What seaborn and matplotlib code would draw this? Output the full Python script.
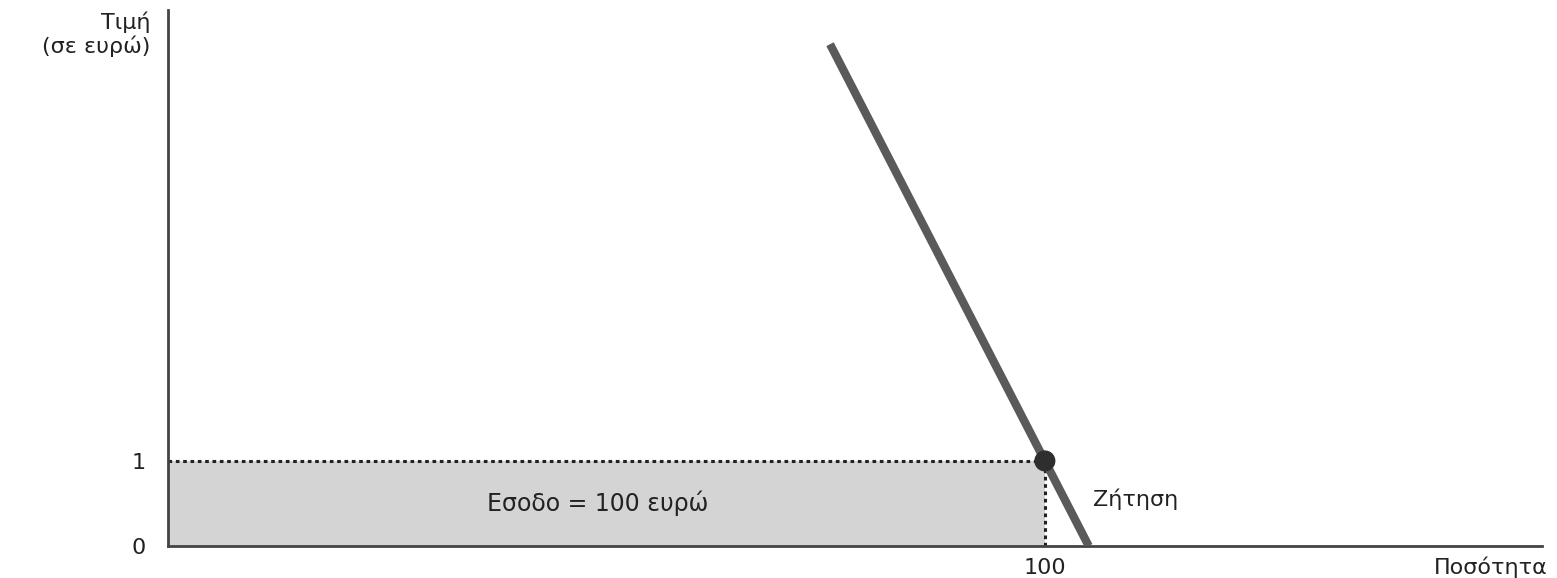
import matplotlib
matplotlib.use('Agg')
import matplotlib.pyplot as plt
import pandas as pd
import seaborn as sns

# Demand curve (quantity, price)
demand_q = [75.5, 105]
demand_p = [5.9, 0]

# Market point and revenue box
point_q = [100]
point_p = [1]

x_ticks = [100]
x_tick_labels = ['100']
y_ticks = [0, 1]
y_tick_labels = ['0', '1']

sns.set_style('white')
plt.rcParams['font.family'] = ['DejaVu Sans']

fig = plt.figure(figsize=(15.57, 5.78), dpi=100)
ax = fig.add_axes([0.1079, 0.0554, 0.8825, 0.927])

# Shaded revenue area
ax.fill_between([0, point_q[0]], 0, point_p[0], color='#d4d4d4', linewidth=0, zorder=1)

# Dotted guides
ax.plot([0, point_q[0]], [point_p[0], point_p[0]], color='#222222', linestyle=(0, (1.2, 1.2)), lw=2.2, zorder=2)
ax.plot([point_q[0], point_q[0]], [0, point_p[0]], color='#222222', linestyle=(0, (1.2, 1.2)), lw=2.2, zorder=2)

df = pd.DataFrame({'q': demand_q, 'p': demand_p})
sns.lineplot(data=df, x='q', y='p', ax=ax, color='#5a5a5a', lw=6, sort=False,
             solid_capstyle='butt', zorder=3)

sns.scatterplot(x=point_q, y=point_p, ax=ax, color='#2e2e2e', s=230, edgecolor='none', zorder=4)

ax.set_xlim(0, 156.7)
ax.set_ylim(0, 6.3)

for side in ['top', 'right']:
    ax.spines[side].set_visible(False)
for side in ['left', 'bottom']:
    ax.spines[side].set_color('#444444')
    ax.spines[side].set_linewidth(2)

ax.set_xticks(x_ticks)
ax.set_xticklabels(x_tick_labels)
ax.set_yticks(y_ticks)
ax.set_yticklabels(y_tick_labels)
ax.tick_params(axis='both', length=0, labelsize=16, colors='#222222')
ax.tick_params(axis='x', pad=9)
ax.tick_params(axis='y', pad=16)
ax.set_xlabel('')
ax.set_ylabel('')

ax.text(-0.013, 0.998, 'Τιμή\n(σε ευρώ)', transform=ax.transAxes, ha='right', va='top',
        fontsize=16, color='#222222', linespacing=1.15)
ax.text(1.004, -0.02, 'Ποσότητα', transform=ax.transAxes, ha='right', va='top',
        fontsize=16, color='#222222')
ax.text(105.5, 0.55, 'Ζήτηση', ha='left', va='center',
        fontsize=16, color='#222222')
ax.text(49, 0.5, 'Εσοδο = 100 ευρώ', ha='center', va='center',
        fontsize=17, color='#222222')

plt.savefig('out.png', dpi=100)
